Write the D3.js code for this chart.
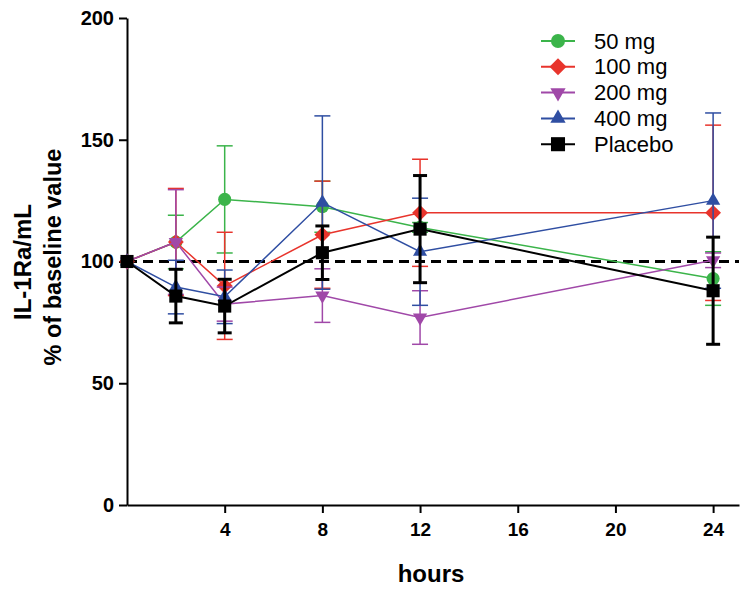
<!DOCTYPE html>
<html>
<head>
<meta charset="utf-8">
<script src="https://cdn.jsdelivr.net/npm/d3@7"></script>
<style>
  html, body { margin: 0; padding: 0; background: #fff; }
  svg { display: block; font-family: Arial, "Liberation Sans", sans-serif; }
</style>
</head>
<body>
<svg id="chart" width="752" height="596"></svg>
<script>
// ---- data ----
const hours = [0, 2, 4, 8, 12, 24];
const seriesNames = ["50 mg", "100 mg", "200 mg", "400 mg", "Placebo"];
const mean50  = [100, 108, 125.5, 122.5, 114, 93];
const sem50   = [0, 11, 22, 10.5, 2, 11];
const mean100 = [100, 108, 90, 111, 120, 120];
const sem100  = [0, 22, 22, 22, 22, 36];
const mean200 = [100, 108, 82.5, 86, 77, 100.5];
const sem200  = [0, 21.5, 7, 11, 11, 3];
const mean400 = [100, 89.5, 85.5, 124.2, 104, 125];
const sem400  = [0, 11, 11, 35.6, 22, 36];
const meanPbo = [100, 85.8, 81.7, 103.6, 113.3, 88];
const semPbo  = [0, 11, 11, 11, 22, 22];
const xTicks = [4, 8, 12, 16, 20, 24];
const yTicks = [0, 50, 100, 150, 200];
const baselineValue = 100;

const colors = ["#3bb44a", "#e8342c", "#a048a8", "#2f4ea2", "#000000"];
const shapes = ["circle", "diamond", "triDown", "triUp", "square"];
const allMeans = [mean50, mean100, mean200, mean400, meanPbo];
const allSems = [sem50, sem100, sem200, sem400, semPbo];

// ---- layout ----
const svg = d3.select("#chart");
const x = d3.scaleLinear().domain([0, 25.06]).range([127, 739]);
const y = d3.scaleLinear().domain([0, 200]).range([505, 18]);

function symbolPath(shape, k) {
  k = k || 1;
  if (shape === "circle") return d3.symbol(d3.symbolCircle, 135 * k)();
  if (shape === "diamond") return d3.symbol(d3.symbolSquare, 125 * k)();
  if (shape === "triUp" || shape === "triDown") return d3.symbol(d3.symbolTriangle, 88 * k)();
  return d3.symbol(d3.symbolSquare, 172 * k)();
}
function symbolRotate(shape) {
  if (shape === "diamond") return 45;
  if (shape === "triDown") return 180;
  return 0;
}

// ---- axes ----
const axisColor = "#000";
const gx = svg.append("g").attr("transform", "translate(0,505)")
  .call(d3.axisBottom(x).tickValues(xTicks).tickSize(8).tickSizeOuter(0).tickPadding(10));
gx.select(".domain").attr("stroke", axisColor).attr("stroke-width", 2);
gx.selectAll(".tick line").attr("stroke", axisColor).attr("stroke-width", 2);
gx.selectAll(".tick text").attr("font-size", 19).attr("font-weight", "bold").attr("fill", "#000")
  .attr("font-family", "Arial, 'Liberation Sans', sans-serif");

const gy = svg.append("g").attr("transform", "translate(127,0)")
  .call(d3.axisLeft(y).tickValues(yTicks).tickSize(8).tickSizeOuter(0).tickPadding(5));
gy.select(".domain").attr("stroke", axisColor).attr("stroke-width", 2);
gy.selectAll(".tick line").attr("stroke", axisColor).attr("stroke-width", 2);
gy.selectAll(".tick text").attr("font-size", 20).attr("font-weight", "bold").attr("fill", "#000")
  .attr("font-family", "Arial, 'Liberation Sans', sans-serif");

// axis titles
svg.append("text").attr("x", 431).attr("y", 582).attr("text-anchor", "middle")
  .attr("font-size", 24).attr("font-weight", "bold").text("hours");
svg.append("text").attr("transform", "translate(31,262) rotate(-90)").attr("text-anchor", "middle")
  .attr("font-size", 24).attr("font-weight", "bold").text("IL-1Ra/mL");
svg.append("text").attr("transform", "translate(61,257) rotate(-90)").attr("text-anchor", "middle")
  .attr("font-size", 23.5).attr("font-weight", "bold").text("% of baseline value");

// baseline dashed line
svg.append("line")
  .attr("x1", x(0)).attr("x2", x(25.06))
  .attr("y1", y(baselineValue)).attr("y2", y(baselineValue))
  .attr("stroke", "#000").attr("stroke-width", 3).attr("stroke-dasharray", "10,6");

// ---- series ----
seriesNames.forEach((name, i) => {
  const isPbo = i === 4;
  const g = svg.append("g");
  const pts = hours.map((h, j) => ({ h, m: allMeans[i][j], s: allSems[i][j] }));
  const capW = isPbo ? 14 : 16;
  const ew = isPbo ? 3 : 1.5;
  // error bars
  pts.filter(d => d.s > 0).forEach(d => {
    g.append("line").attr("x1", x(d.h)).attr("x2", x(d.h))
      .attr("y1", y(d.m - d.s)).attr("y2", y(d.m + d.s))
      .attr("stroke", colors[i]).attr("stroke-width", ew);
    [d.m - d.s, d.m + d.s].forEach(v => {
      g.append("line").attr("x1", x(d.h) - capW / 2).attr("x2", x(d.h) + capW / 2)
        .attr("y1", y(v)).attr("y2", y(v))
        .attr("stroke", colors[i]).attr("stroke-width", ew);
    });
  });
  // line
  g.append("path").datum(pts)
    .attr("d", d3.line().x(d => x(d.h)).y(d => y(d.m)))
    .attr("fill", "none").attr("stroke", colors[i]).attr("stroke-width", isPbo ? 2 : 1.5);
  // markers
  g.selectAll("path.m").data(pts).join("path").attr("class", "m")
    .attr("d", symbolPath(shapes[i]))
    .attr("transform", d => `translate(${x(d.h)},${y(d.m)}) rotate(${symbolRotate(shapes[i])})`)
    .attr("fill", colors[i]);
});

// ---- legend ----
const leg = svg.append("g");
seriesNames.forEach((name, i) => {
  const cy = 41 + i * 25.8;
  leg.append("line").attr("x1", 541).attr("x2", 575).attr("y1", cy).attr("y2", cy)
    .attr("stroke", colors[i]).attr("stroke-width", 2);
  leg.append("path").attr("d", symbolPath(shapes[i], 1.15))
    .attr("transform", `translate(558,${cy}) rotate(${symbolRotate(shapes[i])})`)
    .attr("fill", colors[i]);
  leg.append("text").attr("x", 594).attr("y", cy + 7.5)
    .attr("font-size", 22).attr("fill", "#000").text(name);
});
</script>
</body>
</html>
